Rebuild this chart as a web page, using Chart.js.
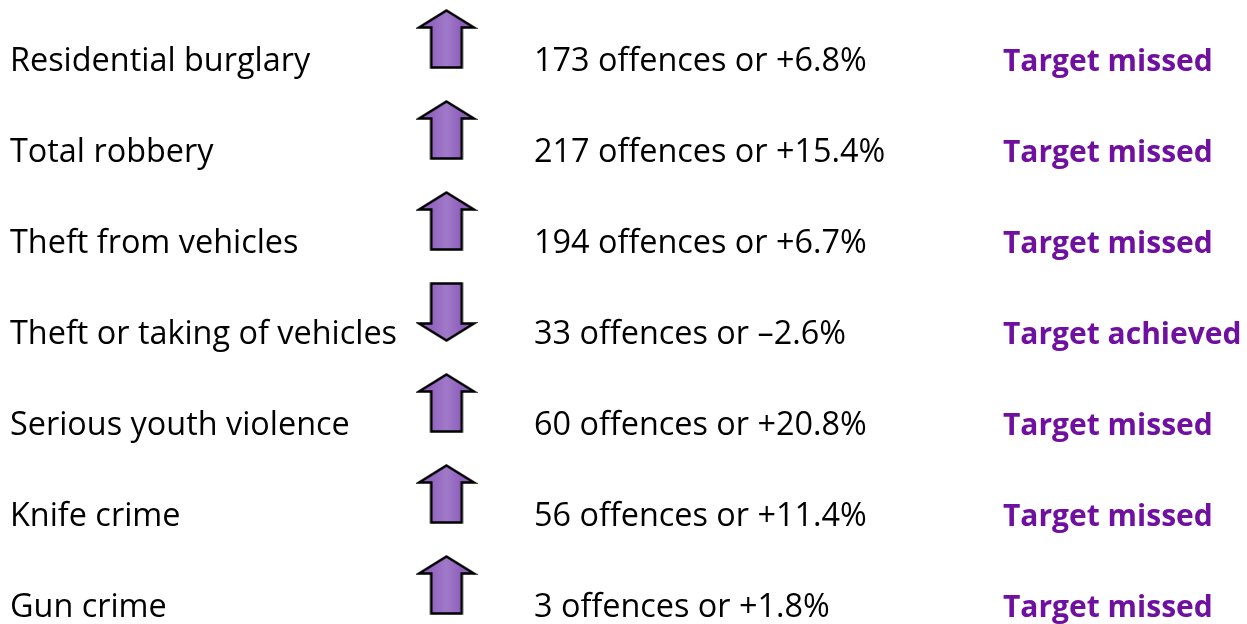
<!DOCTYPE html>
<html><head><meta charset="utf-8">
<script src="https://cdn.jsdelivr.net/npm/chart.js@4/dist/chart.umd.min.js"></script>
<style>html,body{margin:0;padding:0;background:#fff;} #wrap{width:1247px;height:624px;}</style>
</head><body><div id="wrap"><canvas id="c" width="1247" height="624"></canvas></div>
<script>
const categories = ["Residential burglary","Total robbery","Theft from vehicles","Theft or taking of vehicles","Serious youth violence","Knife crime","Gun crime"];
const offences = [173, 217, 194, 33, 60, 56, 3];
const pctChange = [6.8, 15.4, 6.7, -2.6, 20.8, 11.4, 1.8];
const outcomes = ["Target missed","Target missed","Target missed","Target achieved","Target missed","Target missed","Target missed"];

// layout constants (pixels on the hidden x scale)
const COL_LABEL = 10, COL_ARROW = 446.5, COL_VALUE = 534, COL_OUTCOME = 1003;
const ARROW_LIFT = 32;

function makeArrow(up){
  const W = 62, H = 2*(ARROW_LIFT + 32);
  const cv = document.createElement('canvas'); cv.width = W; cv.height = H;
  const g = cv.getContext('2d');
  const cx = W/2, aw = 55, ah = 57, sw = 30.5, hh = 17;
  const t = H/2 - ARROW_LIFT - ah/2;
  g.beginPath();
  if (up) {
    g.moveTo(cx, t); g.lineTo(cx+aw/2, t+hh); g.lineTo(cx+sw/2, t+hh); g.lineTo(cx+sw/2, t+ah);
    g.lineTo(cx-sw/2, t+ah); g.lineTo(cx-sw/2, t+hh); g.lineTo(cx-aw/2, t+hh);
  } else {
    g.moveTo(cx-sw/2, t); g.lineTo(cx+sw/2, t); g.lineTo(cx+sw/2, t+ah-hh); g.lineTo(cx+aw/2, t+ah-hh);
    g.lineTo(cx, t+ah); g.lineTo(cx-aw/2, t+ah-hh); g.lineTo(cx-sw/2, t+ah-hh);
  }
  g.closePath();
  const gr = g.createLinearGradient(cx-sw/2, 0, cx+sw/2, 0);
  gr.addColorStop(0, '#9264bf'); gr.addColorStop(0.5, '#a07ac9'); gr.addColorStop(1, '#8e5fbb');
  g.fillStyle = gr; g.fill();
  g.lineWidth = 2.6; g.strokeStyle = '#000'; g.lineJoin = 'miter'; g.stroke();
  return cv;
}
const upArrow = makeArrow(true), downArrow = makeArrow(false);

function valueText(i){
  const p = pctChange[i];
  return offences[i] + ' offences or ' + (p >= 0 ? '+' : '\u2013') + Math.abs(p).toFixed(1) + '%';
}

const textPlugin = {
  id: 'rowText',
  afterDatasetsDraw(chart){
    const ctx = chart.ctx, xs = chart.scales.x, ys = chart.scales.y;
    ctx.save();
    ctx.textBaseline = 'alphabetic';
    ctx.textAlign = 'left';
    categories.forEach((c, i) => {
      const y = ys.getPixelForValue(i);
      ctx.fillStyle = '#000';
      ctx.font = '32.4px "Open Sans"';
      ctx.fillText(c, xs.getPixelForValue(COL_LABEL), y);
      ctx.fillText(valueText(i), xs.getPixelForValue(COL_VALUE), y);
      ctx.fillStyle = '#7010a0';
      ctx.font = 'bold 30px "Open Sans"';
      ctx.fillText(outcomes[i], xs.getPixelForValue(COL_OUTCOME), y);
    });
    ctx.restore();
  }
};

new Chart(document.getElementById('c'), {
  type: 'scatter',
  data: {
    datasets: [{
      data: categories.map((c, i) => ({x: COL_ARROW, y: i})),
      pointStyle: pctChange.map(p => p >= 0 ? upArrow : downArrow),
      pointRadius: 30,
      clip: false
    }]
  },
  options: {
    responsive: false,
    animation: false,
    events: [],
    layout: {autoPadding: false, padding: {top: 71, bottom: 7, left: 0, right: 0}},
    plugins: {legend: {display: false}, tooltip: {enabled: false}},
    scales: {
      x: {type: 'linear', display: false, min: 0, max: 1247},
      y: {type: 'linear', display: false, reverse: true, min: 0, max: 6}
    }
  },
  plugins: [textPlugin]
});
</script>
</body></html>
